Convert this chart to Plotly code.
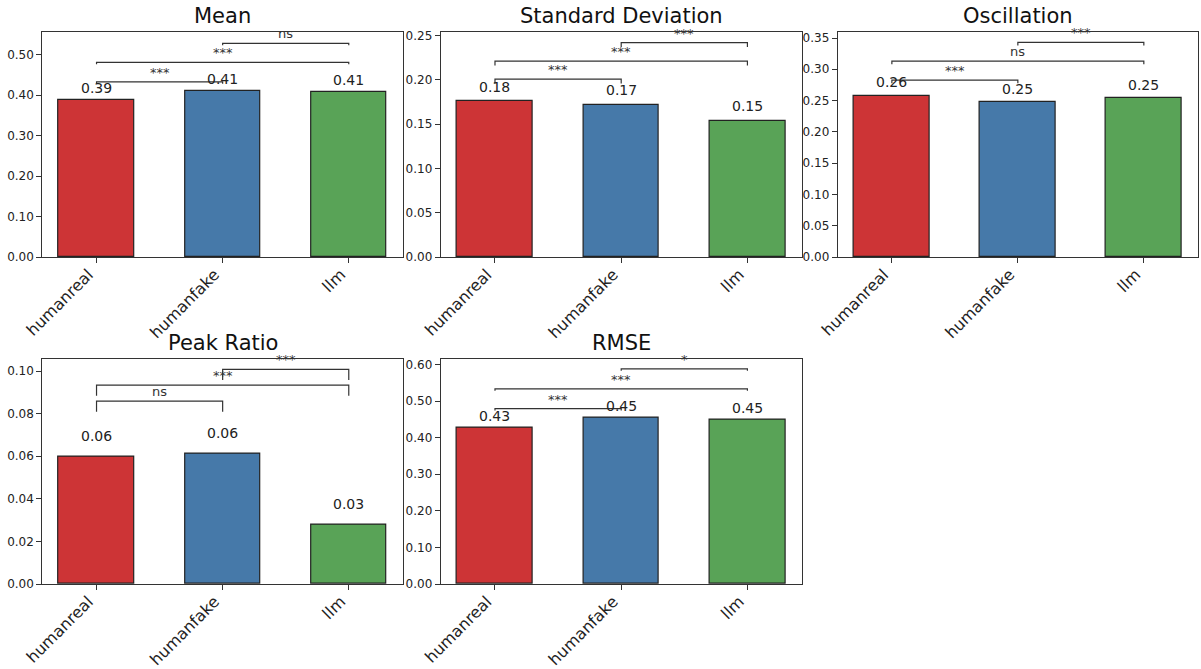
import plotly.graph_objects as go

# Groups shown on every panel
categories = ["humanreal", "humanfake", "llm"]

# Metric names (panel titles)
metrics = ["Mean", "Standard Deviation", "Oscillation", "Peak Ratio", "RMSE"]

# Bar heights per metric, in the order of `categories`
mean_vals = [0.388, 0.410, 0.407]
std_vals = [0.176, 0.172, 0.154]
osc_vals = [0.258, 0.248, 0.254]
peak_vals = [0.0596, 0.0612, 0.028]
rmse_vals = [0.428, 0.454, 0.449]

# Pairwise comparisons: (group a, group b) and significance labels
pairs = [(0, 1), (0, 2), (1, 2)]
mean_sig = ["***", "***", "ns"]
std_sig = ["***", "***", "***"]
osc_sig = ["***", "ns", "***"]
peak_sig = ["ns", "***", "***"]
rmse_sig = ["***", "***", "*"]

# Heights of the comparison brackets for each metric
mean_brk = [0.433, 0.481, 0.528]
std_brk = [0.2008, 0.2211, 0.2421]
osc_brk = [0.2827, 0.313, 0.343]
peak_brk = [0.0859, 0.0934, 0.1008]
rmse_brk = [0.479, 0.533, 0.588]

# Axis limits and tick spacing
y_max = [0.556, 0.254, 0.3596, 0.1058, 0.6156]
y_step = [0.1, 0.05, 0.05, 0.02, 0.1]

values = [mean_vals, std_vals, osc_vals, peak_vals, rmse_vals]
sigs = [mean_sig, std_sig, osc_sig, peak_sig, rmse_sig]
brackets = [mean_brk, std_brk, osc_brk, peak_brk, rmse_brk]

colors = ["#CD3436", "#4679A9", "#59A357"]
W, H = 1201, 669
FONT = "DejaVu Sans"
TICK_H = 0.005  # bracket end drop, in data units

# Panel positions (pixels: left, right, top, bottom)
col_px = [(42.3, 403.0), (440.7, 801.7), (837.7, 1198.0)]
row_px = [(32.0, 257.0), (358.7, 584.0)]
slots = [(0, 0), (0, 1), (0, 2), (1, 0), (1, 1)]

fig = go.Figure()
annotations = []
layout_axes = {}

for i, (name, vals, sig, brk) in enumerate(zip(metrics, values, sigs, brackets)):
    r, c = slots[i]
    n = "" if i == 0 else str(i + 1)
    xa, ya = "x" + n, "y" + n
    x0, x1 = col_px[c]
    t, b = row_px[r]
    dom_x = [x0 / W, x1 / W]
    dom_y = [1 - b / H, 1 - t / H]

    fig.add_trace(go.Bar(
        x=[0, 1, 2], y=vals, width=0.6,
        marker=dict(color=colors, line=dict(color="#222222", width=1.2)),
        xaxis=xa, yaxis=ya, showlegend=False, hoverinfo="skip",
    ))

    # Value labels above the bars
    for k, v in enumerate(vals):
        annotations.append(dict(
            x=k, y=v + TICK_H, xref=xa, yref=ya, text=f"{v:.2f}",
            showarrow=False, yanchor="bottom", xanchor="center",
            font=dict(family=FONT, size=14, color="#222222"),
        ))

    # Significance brackets
    for (a, bb), s, yb in zip(pairs, sig, brk):
        fig.add_trace(go.Scatter(
            x=[a, a, bb, bb], y=[yb - TICK_H, yb, yb, yb - TICK_H],
            mode="lines", line=dict(color="#333333", width=1.2),
            xaxis=xa, yaxis=ya, showlegend=False, hoverinfo="skip",
            cliponaxis=False,
        ))
        annotations.append(dict(
            x=(a + bb) / 2, y=yb, xref=xa, yref=ya, text=s,
            showarrow=False, yanchor="bottom", xanchor="center",
            font=dict(family=FONT, size=13, color="#333333"),
        ))

    # Panel title
    annotations.append(dict(
        x=(dom_x[0] + dom_x[1]) / 2, y=dom_y[1], xref="paper", yref="paper",
        text=name, showarrow=False, yanchor="bottom", xanchor="center",
        yshift=2, font=dict(family=FONT, size=21, color="#111111"),
    ))

    n_ticks = int(round(y_max[i] / y_step[i] + 1e-9))
    tick_vals = [round(j * y_step[i], 4) for j in range(n_ticks + 1) if j * y_step[i] <= y_max[i] + 1e-9]

    layout_axes["xaxis" + n] = dict(
        domain=dom_x, anchor=ya, range=[-0.43, 2.43], automargin=False,
        tickmode="array", tickvals=[0, 1, 2], ticktext=categories,
        tickangle=-45, ticks="outside", ticklen=5, tickcolor="#333333",
        ticklabelshift=-8, ticklabelstandoff=-4,
        showline=True, linecolor="#333333", linewidth=1, mirror=True,
        showgrid=False, zeroline=False,
        tickfont=dict(family=FONT, size=16, color="#222222"),
    )
    layout_axes["yaxis" + n] = dict(
        domain=dom_y, anchor=xa, range=[0, y_max[i]], automargin=False,
        tickmode="array", tickvals=tick_vals,
        ticktext=[f"{v:.2f}" for v in tick_vals],
        ticks="outside", ticklen=5, tickcolor="#333333",
        showline=True, linecolor="#333333", linewidth=1, mirror=True,
        showgrid=False, zeroline=False,
        tickfont=dict(family=FONT, size=12, color="#222222"),
    )

fig.update_layout(
    width=W, height=H, autosize=False,
    margin=dict(l=0, r=0, t=0, b=0, autoexpand=False),
    paper_bgcolor="white", plot_bgcolor="white",
    annotations=annotations, bargap=0,
    font=dict(family=FONT),
    **layout_axes,
)

fig.write_html("out.html")
